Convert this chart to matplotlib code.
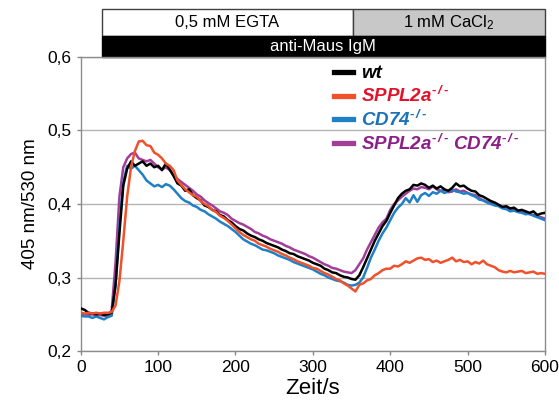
import numpy as np
import matplotlib
matplotlib.use("Agg")
import matplotlib.pyplot as plt
from matplotlib.patches import Rectangle
from matplotlib.ticker import FuncFormatter

plt.rcParams['font.family'] = ['Liberation Sans', 'DejaVu Sans']
plt.rcParams['mathtext.default'] = 'regular'

# time axis (s), one reading every 5 s
zeit = np.arange(0, 605, 5)

# ratio 405/530 nm, values in 1/1000
wt = [258, 256, 252, 251, 250, 251, 249, 250, 252, 290, 360, 425, 448, 458, 452, 455, 458, 452, 455, 450,
      452, 446, 455, 447, 438, 428, 425, 418, 420, 412, 408, 405, 398, 396, 392, 390, 385, 383, 378, 375,
      370, 366, 364, 360, 357, 355, 352, 350, 347, 345, 343, 341, 338, 336, 333, 332, 329, 327, 325, 323,
      320, 318, 316, 312, 310, 307, 306, 303, 301, 300, 298, 297, 303, 314, 326, 338, 350, 360, 370, 377,
      388, 398, 408, 414, 418, 420, 426, 425, 428, 426, 422, 425, 421, 424, 420, 418, 422, 428, 424, 425,
      421, 418, 417, 412, 410, 407, 404, 402, 399, 396, 397, 394, 395, 391, 392, 390, 388, 390, 385, 387,
      388]
sppl2a = [252, 251, 252, 251, 252, 251, 252, 252, 253, 262, 295, 350, 410, 450, 472, 485, 486, 480, 479, 470,
          467, 462, 455, 452, 446, 432, 426, 420, 416, 412, 410, 404, 400, 397, 392, 389, 384, 381, 377, 372,
          367, 362, 358, 355, 352, 350, 346, 344, 342, 339, 337, 335, 332, 330, 327, 325, 322, 320, 318, 316,
          313, 312, 309, 306, 304, 301, 298, 296, 292, 289, 285, 281, 290, 292, 296, 298, 303, 306, 310, 312,
          312, 316, 315, 318, 322, 320, 323, 326, 327, 324, 325, 321, 323, 320, 322, 324, 327, 322, 324, 321,
          322, 318, 321, 319, 323, 318, 316, 314, 310, 308, 307, 309, 307, 308, 309, 306, 307, 308, 305, 306,
          305]
cd74 = [248, 247, 247, 245, 247, 245, 243, 246, 248, 290, 370, 430, 452, 448, 452, 446, 440, 432, 428, 424,
        426, 423, 427, 425, 420, 414, 408, 404, 402, 398, 396, 392, 390, 386, 383, 380, 376, 373, 370, 366,
        362, 357, 352, 349, 346, 344, 341, 338, 337, 335, 333, 330, 328, 326, 324, 321, 319, 317, 315, 313,
        311, 308, 305, 303, 300, 298, 296, 295, 293, 290, 289, 290, 293, 300, 313, 327, 338, 350, 360, 368,
        378, 388, 395, 400, 408, 402, 412, 403, 412, 415, 411, 416, 414, 418, 415, 417, 420, 417, 416, 414,
        415, 412, 410, 406, 405, 402, 400, 398, 397, 394, 393, 390, 391, 389, 388, 386, 387, 384, 382, 380,
        378]
doppel = [251, 250, 249, 250, 248, 249, 248, 247, 255, 320, 410, 450, 462, 468, 470, 462, 460, 458, 460, 455,
          450, 447, 450, 446, 440, 434, 430, 426, 422, 418, 413, 410, 405, 401, 398, 394, 390, 388, 385, 380,
          377, 374, 372, 369, 366, 362, 360, 357, 355, 352, 350, 348, 346, 343, 341, 338, 336, 334, 332, 329,
          327, 324, 321, 318, 316, 313, 312, 310, 308, 307, 306, 310, 318, 326, 338, 348, 358, 368, 375, 380,
          392, 400, 405, 410, 414, 418, 421, 420, 423, 422, 420, 424, 420, 418, 419, 416, 417, 420, 417, 418,
          415, 413, 412, 408, 405, 403, 401, 400, 398, 396, 395, 393, 392, 390, 389, 388, 386, 385, 383, 382,
          380]

ko = '$^{\u2010\\,/\\,\u2010}$'
labels = ['wt', 'SPPL2a' + ko, 'CD74' + ko, 'SPPL2a' + ko + ' CD74' + ko]
line_colors = ['black', '#f0502a', '#1f80c8', '#a23d98']
text_colors = ['black', '#e2122a', '#1a72b8', '#8c1f88']

# treatment bars above the plot
egta_start, cacl2_start, ende = 27, 352, 600

fig = plt.figure(figsize=(5.59, 4.08), dpi=100)
ax = fig.add_axes([0.1444, 0.1397, 0.8306, 0.7206])

series = [doppel, cd74, wt, sppl2a]
order = [3, 2, 0, 1]
for s, i in zip(series, order):
    ax.plot(zeit, np.array(s) / 1000, color=line_colors[i], lw=1.8, zorder=3)

ax.set_xlim(0, 600)
ax.set_ylim(0.2, 0.6)
ax.set_xticks([0, 100, 200, 300, 400, 500, 600])
ax.set_yticks([0.2, 0.3, 0.4, 0.5, 0.6])
ax.yaxis.set_major_formatter(FuncFormatter(lambda v, p: f'{v:.1f}'.replace('.', ',')))
ax.tick_params(colors='#888888', labelcolor='black', labelsize=12.5, length=3, width=1)
ax.grid(axis='y', color='#b4b4b4', lw=1)
ax.set_axisbelow(True)
for sp in ax.spines.values():
    sp.set_color('#8c8c8c')
    sp.set_linewidth(1)

ax.set_xlabel('Zeit/s', fontsize=16, labelpad=2)
ax.set_ylabel('405 nm/530 nm', fontsize=13.5, labelpad=6)

# boxes on top
tr = ax.get_xaxis_transform()
ax.add_patch(Rectangle((egta_start, 1.0714), cacl2_start - egta_start, 0.0906, transform=tr,
                       facecolor='white', edgecolor='#404040', lw=1, clip_on=False))
ax.add_patch(Rectangle((cacl2_start, 1.0714), ende - cacl2_start, 0.0906, transform=tr,
                       facecolor='#c8c8c8', edgecolor='#404040', lw=1, clip_on=False))
ax.add_patch(Rectangle((egta_start, 1.0), ende - egta_start, 0.0714, transform=tr,
                       facecolor='black', edgecolor='black', lw=1, clip_on=False))
ax.text((egta_start + cacl2_start) / 2, 1.117, '0,5 mM EGTA', transform=tr, ha='center', va='center', fontsize=12)
ax.text((cacl2_start + ende) / 2, 1.117, '1 mM CaCl$_2$', transform=tr, ha='center', va='center', fontsize=12)
ax.text((egta_start + ende) / 2, 1.036, 'anti-Maus IgM', transform=tr, ha='center', va='center',
        fontsize=12, color='white')

handles = [plt.Line2D([], [], color=c, lw=3.8) for c in line_colors]
leg = ax.legend(handles, labels, loc='upper left', bbox_to_anchor=(0.545, 0.972), frameon=False,
                prop={'weight': 'bold', 'style': 'italic', 'size': 13.5}, labelcolor=text_colors,
                handlelength=1.0, handletextpad=0.45, labelspacing=0.2, borderpad=0, borderaxespad=0)

fig.savefig('out.png', dpi=100)
